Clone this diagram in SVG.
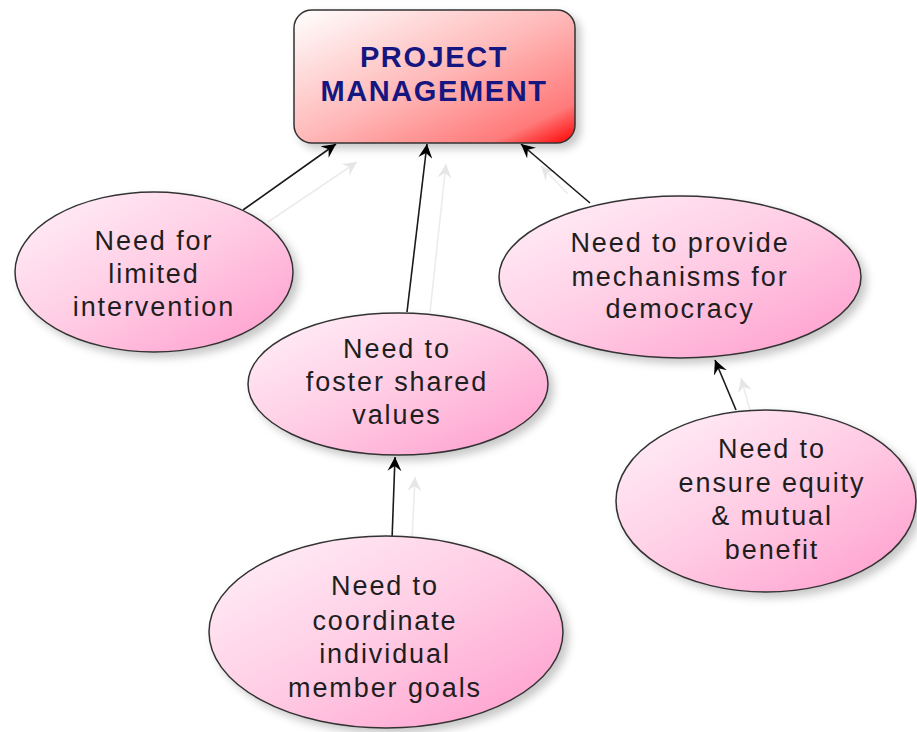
<svg xmlns="http://www.w3.org/2000/svg" width="917" height="732" viewBox="0 0 917 732">
<defs>
<linearGradient id="gRect" x1="0" y1="0" x2="1" y2="1">
<stop offset="0" stop-color="#ffffff"/>
<stop offset="0.5" stop-color="#ffb8b8"/>
<stop offset="0.85" stop-color="#ff7a7a"/>
<stop offset="1" stop-color="#ff0000"/>
</linearGradient>
<linearGradient id="gEll" x1="0" y1="0" x2="1" y2="1">
<stop offset="0" stop-color="#fff2f9"/>
<stop offset="0.5" stop-color="#ffcce4"/>
<stop offset="1" stop-color="#ff9acc"/>
</linearGradient>
<filter id="shadow" x="-20%" y="-20%" width="150%" height="150%">
<feDropShadow dx="5" dy="5" stdDeviation="4" flood-color="#000" flood-opacity="0.22"/>
</filter>
<marker id="arr" viewBox="-14 -7 15 14" refX="0" refY="0" markerWidth="15" markerHeight="14" markerUnits="userSpaceOnUse" orient="auto">
<path d="M0,0 L-14,-7 L-9,0 L-14,7 Z" fill="#000"/>
</marker>
<marker id="ghost" viewBox="-14 -7 15 14" refX="0" refY="0" markerWidth="15" markerHeight="14" markerUnits="userSpaceOnUse" orient="auto">
<path d="M0,0 L-14,-7 L-9,0 L-14,7 Z" fill="#e6e6e6"/>
</marker>
</defs>
<style>
.node { stroke: #333; stroke-width: 1.5; filter: url(#shadow); }
.ell { fill: url(#gEll); }
.lbl { font-family: "Liberation Sans", Arial, sans-serif; font-size: 27px; letter-spacing: 1.9px; fill: #1e1e1e; text-anchor: middle; }
.title { font-family: "Liberation Sans", Arial, sans-serif; font-size: 29px; font-weight: bold; letter-spacing: 1.6px; fill: #161680; text-anchor: middle; }
.conn { stroke: #1a1a1a; stroke-width: 1.6; fill: none; marker-end: url(#arr); }
.gconn { stroke: #ececec; stroke-width: 1.6; fill: none; marker-end: url(#ghost); }
</style>
<rect width="917" height="732" fill="#ffffff"/>

<g id="connectors">
<line class="gconn" x1="268" y1="222" x2="357" y2="162"/>
<line class="gconn" x1="430" y1="312" x2="446" y2="164"/>
<line class="gconn" x1="568" y1="194" x2="541" y2="166"/>
<line class="gconn" x1="412" y1="540" x2="415" y2="477"/>
<line class="gconn" x1="750" y1="410" x2="741" y2="378"/>
<line class="conn" x1="243" y1="210" x2="336" y2="144"/>
<line class="conn" x1="407" y1="312" x2="427" y2="144"/>
<line class="conn" x1="590" y1="203" x2="521" y2="144"/>
<line class="conn" x1="392" y1="540" x2="395" y2="457"/>
<line class="conn" x1="736" y1="410" x2="715" y2="360"/>
</g>

<g id="project-management">
<rect class="node" x="294" y="10" width="281" height="133" rx="18" ry="18" fill="url(#gRect)"/>
<text class="title" x="434" y="67">PROJECT</text>
<text class="title" x="434" y="101">MANAGEMENT</text>
</g>

<g id="limited-intervention">
<ellipse class="node ell" cx="154" cy="272" rx="139" ry="80"/>
<text class="lbl" x="154" y="250">Need for</text>
<text class="lbl" x="154" y="283">limited</text>
<text class="lbl" x="154" y="316">intervention</text>
</g>

<g id="shared-values">
<ellipse class="node ell" cx="398" cy="384" rx="150" ry="71"/>
<text class="lbl" x="397" y="358">Need to</text>
<text class="lbl" x="397" y="391">foster shared</text>
<text class="lbl" x="397" y="424">values</text>
</g>

<g id="democracy">
<ellipse class="node ell" cx="680" cy="277" rx="181" ry="81"/>
<text class="lbl" x="680" y="252">Need to provide</text>
<text class="lbl" x="680" y="286">mechanisms for</text>
<text class="lbl" x="680" y="318">democracy</text>
</g>

<g id="equity">
<ellipse class="node ell" cx="766" cy="501" rx="150" ry="91"/>
<text class="lbl" x="772" y="458">Need to</text>
<text class="lbl" x="772" y="492">ensure equity</text>
<text class="lbl" x="772" y="525">&amp; mutual</text>
<text class="lbl" x="772" y="559">benefit</text>
</g>

<g id="coordinate-goals">
<ellipse class="node ell" cx="386" cy="632" rx="177" ry="96"/>
<text class="lbl" x="385" y="595">Need to</text>
<text class="lbl" x="385" y="630">coordinate</text>
<text class="lbl" x="385" y="663">individual</text>
<text class="lbl" x="385" y="697">member goals</text>
</g>
</svg>
